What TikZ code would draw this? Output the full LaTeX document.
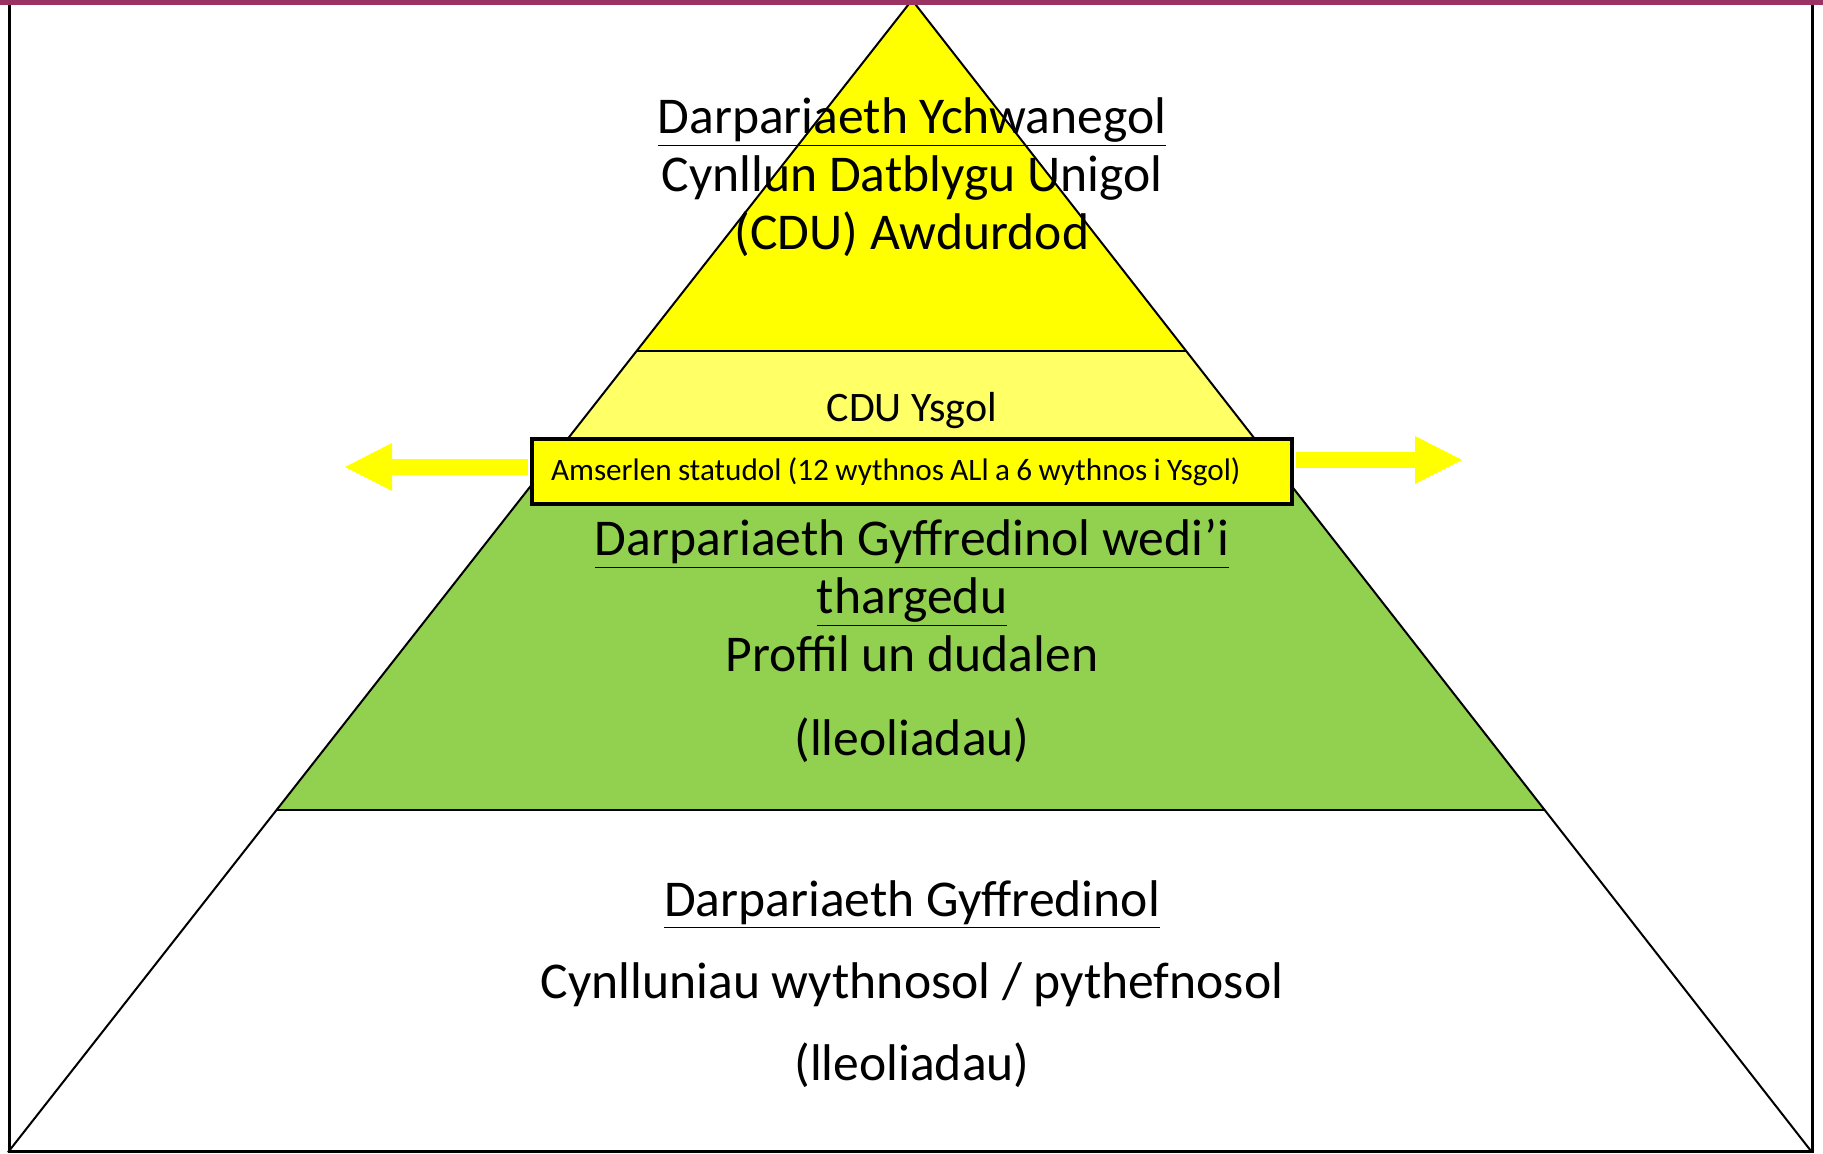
\documentclass[tikz,border=0pt]{standalone}
\usepackage{fontspec}
\setmainfont{Carlito}
\usetikzlibrary{arrows.meta, positioning, calc}
\definecolor{bandpurple}{HTML}{9B3264}
\definecolor{topyellow}{HTML}{FFFF00}
\definecolor{paleyellow}{HTML}{FFFF66}
\definecolor{officegreen}{HTML}{92D050}

\begin{document}
\begin{tikzpicture}[
  x=0.5pt, y=-0.5pt,
  every node/.style={inner sep=0pt},
  layer/.style={draw=black, line width=1pt},
  frame/.style={draw=black, line width=1.5pt},
  timebox/.style={rectangle, draw, line width=1.8pt, fill=topyellow, minimum width=380pt, minimum height=32.5pt, text width=361pt, inner xsep=9.5pt, align=left, font=\fontsize{15.6}{18}\selectfont, execute at begin node={\spaceskip=3.2pt\relax}},
  sidearrow/.style={draw=topyellow, line width=8pt, shorten <=0.9pt, -{Triangle[length=23.5pt, width=24pt, line width=0pt]}},
  bigtext/.style={align=center, font=\fontsize{25.8}{29}\selectfont}
]
\useasboundingbox (0,0) rectangle (1823,1154);

% Pyramid corners and layer cuts
\coordinate (apex) at (912,0);
\coordinate (bl) at (9,1151);
\coordinate (br) at (1811,1151);
\coordinate (l1) at ($(apex)!0.305!(bl)$);
\coordinate (r1) at ($(apex)!0.305!(br)$);
\coordinate (l2) at ($(apex)!0.410!(bl)$);
\coordinate (r2) at ($(apex)!0.410!(br)$);
\coordinate (l3) at ($(apex)!0.7037!(bl)$);
\coordinate (r3) at ($(apex)!0.7037!(br)$);

% Layers
\fill[topyellow] (apex) -- (l1) -- (r1) -- cycle;
\fill[paleyellow] (l1) -- (l2) -- (r2) -- (r1) -- cycle;
\fill[officegreen] (l2) -- (l3) -- (r3) -- (r2) -- cycle;
\draw[layer] (apex) -- (bl) -- (br) -- cycle;
\draw[layer] (l1) -- (r1);
\draw[layer] (l3) -- (r3);

% Frame and top band
\draw[frame] (9,5) -- (9,1151) -- (1812,1151) -- (1812,5);
\fill[bandpurple] (0,0) rectangle (1823,5);

% Timescale box with arrows
\node[timebox] (timeline) at (912,471.5) {Amserlen statudol (12 wythnos ALl a 6 wythnos i Ysgol)};
\coordinate (lefttip) at (345,467);
\coordinate (righttip) at (1462,460);
\draw[sidearrow] (timeline.west |- lefttip) -- (lefttip);
\draw[sidearrow] (timeline.east |- righttip) -- (righttip);

% Labels
\node[bigtext] (extra) at (912,177) {\underline{Darpariaeth Ychwanegol}\\Cynllun Datblygu Unigol\\(CDU) Awdurdod};
\node[font=\fontsize{21}{24}\selectfont] (school) at (912,411) {CDU Ysgol};
\node[bigtext] (targeted) at (912,641) {\underline{Darpariaeth Gyffredinol wedi’i}\\\underline{thargedu}\\Proffil un dudalen\\[12.7pt](lleoliadau)};
\node[bigtext, font=\fontsize{25.8}{41}\selectfont] (general) at (912,984) {\underline{Darpariaeth Gyffredinol}\\Cynlluniau wythnosol / pythefnosol\\(lleoliadau)};

\end{tikzpicture}
\end{document}
